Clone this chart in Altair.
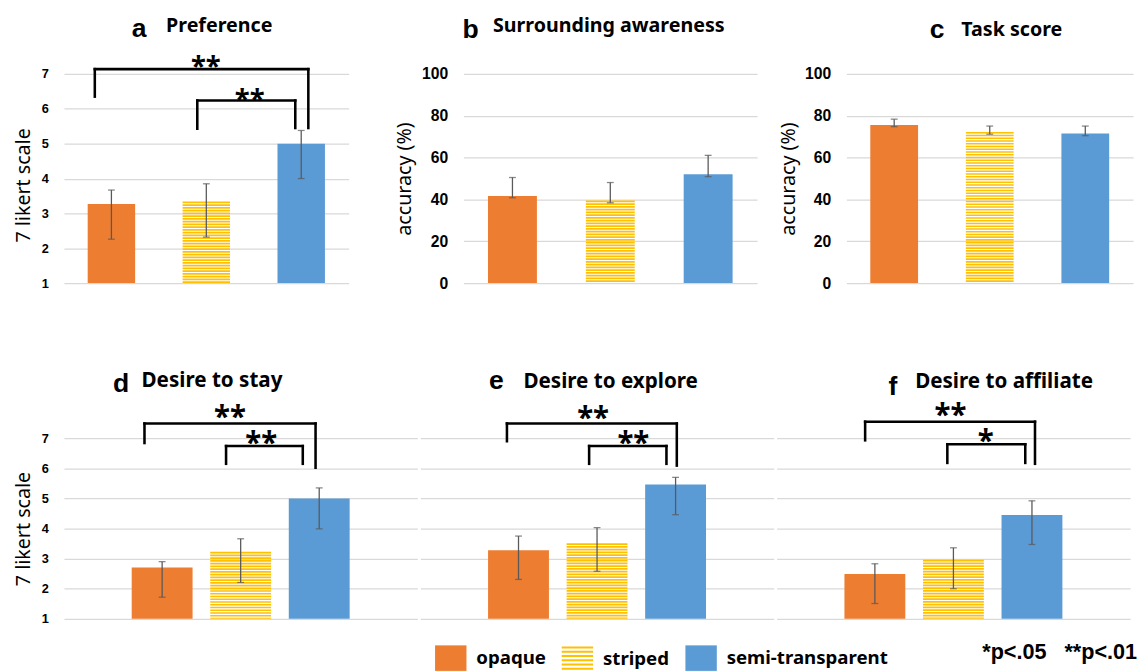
import altair as alt
import pandas as pd

# ---------------- data ----------------
conditions = ["opaque", "striped", "semi-transparent"]

pref_mean = [3.27, 3.34, 5.00]
pref_low = [2.26, 2.32, 4.00]
pref_high = [3.67, 3.85, 5.38]

aware_mean = [41.6, 39.5, 52.0]
aware_low = [40.8, 38.4, 50.9]
aware_high = [50.5, 48.1, 61.1]

task_mean = [75.6, 72.3, 71.5]
task_low = [74.8, 71.2, 70.5]
task_high = [78.4, 75.1, 75.1]

stay_mean = [2.71, 3.23, 5.00]
stay_low = [1.72, 2.21, 3.99]
stay_high = [2.90, 3.66, 5.35]

explore_mean = [3.28, 3.51, 5.46]
explore_low = [2.31, 2.58, 4.46]
explore_high = [3.75, 4.03, 5.70]

affil_mean = [2.49, 2.96, 4.45]
affil_low = [1.51, 2.00, 3.47]
affil_high = [2.83, 3.36, 4.92]

likert_ticks = [1, 2, 3, 4, 5, 6, 7]
accuracy_ticks = [0, 20, 40, 60, 80, 100]

sig_pref = [("opaque", "semi-transparent", "**"), ("striped", "semi-transparent", "**")]
sig_stay = [("opaque", "semi-transparent", "**"), ("striped", "semi-transparent", "**")]
sig_explore = [("opaque", "semi-transparent", "**"), ("striped", "semi-transparent", "**")]
sig_affil = [("opaque", "semi-transparent", "**"), ("striped", "semi-transparent", "*")]

panel_letters = ["a", "b", "c", "d", "e", "f"]
panel_titles = ["Preference", "Surrounding awareness", "Task score",
                "Desire to stay", "Desire to explore", "Desire to affiliate"]
likert_title = "7 likert scale"
accuracy_title = "accuracy (%)"
note_text = "*p<.05\u00a0\u00a0\u00a0**p<.01"

# ---------------- style ----------------
ORANGE = "#ED7D31"
YELLOW = "#FFC000"
BLUE = "#5B9BD5"
ERR = "#595959"
GRID = "#D9D9D9"
legend_scale = alt.Scale(domain=conditions, range=[ORANGE, YELLOW, BLUE])

rect_path = "M-1,-0.8125H1V0.8125H-1Z"
stripe_path = "".join(
    "M-1,{0:.4f}H1V{1:.4f}H-1Z".format(-0.8125 + k * 0.27, -0.8125 + k * 0.27 + 0.13)
    for k in range(6)
)


def panel(idx, means, lows, highs, ticks, ytitle, w, h, pin, pout, label_size,
          show_labels, title_x, title_y, geo, sigs, letter_pos, word_pos, word_size,
          legend=False, note=False):
    df = pd.DataFrame({"cond": conditions, "mean": means, "low": lows, "high": highs})
    base = alt.Chart(df)
    ymin = ticks[0]
    x = alt.X("cond:N", scale=alt.Scale(domain=conditions, paddingInner=pin,
                                        paddingOuter=pout), axis=None)
    axis_kw = dict(values=ticks, grid=True, gridColor=GRID, gridWidth=1.3, domain=False,
                   ticks=False, tickSize=0, labels=show_labels,
                   labelFont="Liberation Sans", labelFontWeight="bold",
                   labelFontSize=label_size, labelColor="black", labelPadding=16)
    if ytitle:
        axis_kw.update(title=ytitle, titleFont="Noto Sans", titleFontWeight="normal",
                       titleFontSize=20, titleColor="black", titleAngle=270,
                       titleBaseline="alphabetic", titleAlign="center", titleX=title_x)
        if title_y is not None:
            axis_kw["titleY"] = title_y
    else:
        axis_kw["title"] = None
    yax = alt.Axis(**axis_kw)
    yscale = alt.Scale(domain=[ticks[0], ticks[-1]], nice=False, zero=False)
    bw = w * (1 - pin) / (3 - pin + 2 * pout)

    layers = []
    layers.append(
        base.transform_filter(alt.datum.cond != "striped").mark_bar().encode(
            x=x,
            y=alt.Y("mean:Q", scale=yscale, axis=yax),
            y2=alt.datum(ymin),
            fill=alt.condition("datum.cond == 'opaque'", alt.value(ORANGE), alt.value(BLUE)),
        )
    )
    layers.append(
        base.transform_filter(alt.datum.cond == "striped").mark_rule(
            color=YELLOW, strokeWidth=bw, strokeDash=[1.7, 1.1], strokeCap="butt"
        ).encode(x=x, y=alt.Y("mean:Q", axis=yax), y2=alt.datum(ymin))
    )
    layers.append(
        base.mark_rule(color=ERR, strokeWidth=1.3).encode(
            x=x, y=alt.Y("low:Q", axis=yax), y2="high:Q")
    )
    for f in ["low", "high"]:
        layers.append(
            base.mark_tick(color=ERR, thickness=1.3, size=7).encode(
                x=x, y=alt.Y(f + ":Q", axis=yax))
        )
    rule_kw = dict(color="black", strokeWidth=2.6, strokeCap="square")
    for k, (a, b, lab) in enumerate(sigs):
        g = geo[k]
        cb = alt.Chart(pd.DataFrame({"from": [a], "to": [b], "label": [lab]}))
        layers.append(cb.mark_rule(**rule_kw).encode(
            x=alt.X("from:N", bandPosition=g["bpl"], axis=None),
            x2=alt.X2("to:N", bandPosition=g["bpr"]),
            y=alt.YDatum(g["level"], axis=yax)))
        layers.append(cb.mark_rule(**rule_kw).encode(
            x=alt.X("from:N", bandPosition=g["bpl"], axis=None),
            y=alt.YDatum(g["level"], axis=yax), y2=alt.Y2Datum(g["lb"])))
        layers.append(cb.mark_rule(**rule_kw).encode(
            x=alt.X("to:N", bandPosition=g["bpr"], axis=None),
            y=alt.YDatum(g["level"], axis=yax), y2=alt.Y2Datum(g["rb"])))
        layers.append(cb.mark_text(font="Noto Sans", fontWeight="bold", fontSize=g["fs"],
                                   align="center", baseline="alphabetic", color="black",
                                   dx=g["sdx"]).encode(
            x=alt.X("from:N", bandPosition=1, axis=None),
            y=alt.YDatum(g["sy"], axis=yax), text="label:N"))
    # panel heading
    layers.append(alt.Chart(pd.DataFrame({"t": [panel_letters[idx]]})).mark_text(
        font="Liberation Sans", fontWeight="bold", fontSize=27, align="left",
        baseline="alphabetic", color="black").encode(
        x=alt.value(letter_pos[0]), y=alt.value(letter_pos[1]), text="t:N"))
    layers.append(alt.Chart(pd.DataFrame({"t": [panel_titles[idx]]})).mark_text(
        font="Noto Sans", fontWeight="bold", fontSize=word_size, align="left",
        baseline="alphabetic", color="black").encode(
        x=alt.value(word_pos[0]), y=alt.value(word_pos[1]), text="t:N"))
    if legend:
        leg = alt.Legend(title=None, orient="none", legendX=378, legendY=579,
                         direction="horizontal", symbolSize=1024, symbolStrokeWidth=0,
                         symbolOpacity=1, labelFont="Noto Sans", labelFontWeight="bold",
                         labelFontSize=19, labelColor="black", labelOffset=10,
                         columnPadding=16, padding=0, labelLimit=400)
        layers.append(base.transform_filter("false").mark_point(filled=True).encode(
            x=x, y=alt.Y("mean:Q", axis=yax),
            color=alt.Color("cond:N", scale=legend_scale, legend=leg),
            shape=alt.Shape("cond:N", scale=alt.Scale(domain=conditions,
                            range=[rect_path, stripe_path, rect_path]), legend=leg)))
    if note:
        layers.append(alt.Chart(pd.DataFrame({"t": [note_text]})).mark_text(
            font="Liberation Sans", fontWeight="bold", fontSize=22, align="right",
            baseline="alphabetic", color="black").encode(
            x=alt.value(367), y=alt.value(225), text="t:N"))
    return alt.layer(*layers).properties(width=w, height=h)


geo_a = [dict(level=7.14, lb=6.35, rb=5.45, bpl=0.15, bpr=0.65, sdx=72, sy=6.93, fs=28),
         dict(level=6.24, lb=5.43, rb=5.45, bpl=0.31, bpr=0.375, sdx=20, sy=6.0, fs=28)]
geo_d = [dict(level=7.49, lb=6.84, rb=6.02, bpl=0.21, bpr=0.44, sdx=38, sy=7.38, fs=30),
         dict(level=6.74, lb=6.15, rb=6.15, bpl=0.26, bpr=0.23, sdx=-10, sy=6.50, fs=30)]
geo_e = [dict(level=7.49, lb=6.90, rb=6.09, bpl=0.31, bpr=0.52, sdx=45, sy=7.34, fs=30),
         dict(level=6.74, lb=6.15, rb=6.15, bpl=0.37, bpr=0.35, sdx=6, sy=6.50, fs=30)]
geo_f = [dict(level=7.55, lb=6.93, rb=6.15, bpl=0.34, bpr=0.55, sdx=46, sy=7.44, fs=30),
         dict(level=6.80, lb=6.18, rb=6.18, bpl=0.40, bpr=0.39, sdx=2, sy=6.59, fs=30)]

TOP_H = 213
BOT_H = 184
pa = panel(0, pref_mean, pref_low, pref_high, likert_ticks, likert_title, 290, TOP_H,
           0.5, 0.25, 13, True, -35, 113, geo_a, sig_pref, (69, -38), (104, -43), 20)
pb = panel(1, aware_mean, aware_low, aware_high, accuracy_ticks, accuracy_title, 299, TOP_H,
           0.5, 0.25, 16, True, -54, None, [], [], (-1, -37), (30, -43), 20)
pc = panel(2, task_mean, task_low, task_high, accuracy_ticks, accuracy_title, 292, TOP_H,
           0.5, 0.25, 16, True, -53, None, [], [], (85, -37), (117, -39), 20)
pd_ = panel(3, stay_mean, stay_low, stay_high, likert_ticks, likert_title, 360, BOT_H,
            0.225, 0.8625, 13, True, -35, None, geo_d, sig_stay, (50, -47), (79, -52), 21,
            legend=True)
pe = panel(4, explore_mean, explore_low, explore_high, likert_ticks, None, 360, BOT_H,
           0.225, 0.8625, 13, False, None, None, geo_e, sig_explore, (70, -50), (105, -51), 21)
pf = panel(5, affil_mean, affil_low, affil_high, likert_ticks, None, 360, BOT_H,
           0.225, 0.8625, 13, False, None, None, geo_f, sig_affil, (114, -44), (141, -51), 21,
           note=True)

top = alt.hconcat(pa, alt.hconcat(pb, pc, spacing=91, bounds="flush"), spacing=47)
bottom = alt.hconcat(pd_, pe, pf, spacing=3, bounds="flush")
chart = alt.vconcat(top, bottom, spacing=61).properties(
    padding={"left": 6, "top": 1, "right": 0, "bottom": 0}
).configure_view(stroke=None)

chart.save("out.html", embed_options={"renderer": "svg", "actions": False})
